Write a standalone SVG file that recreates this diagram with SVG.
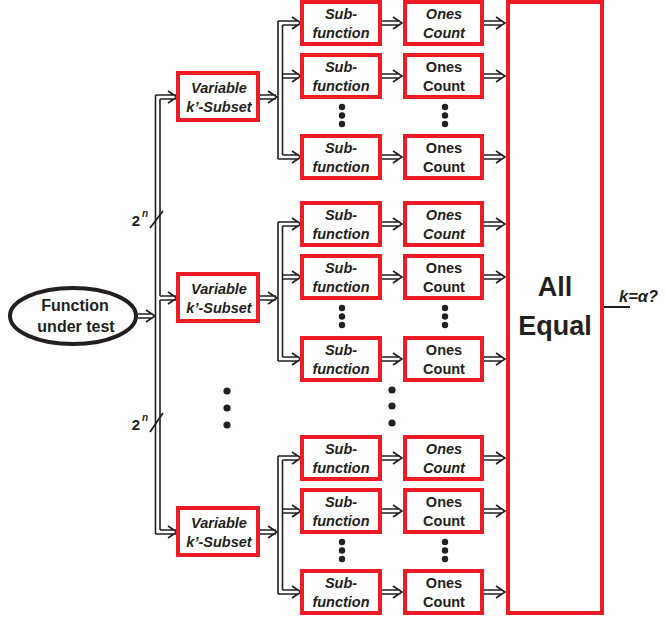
<svg xmlns="http://www.w3.org/2000/svg" width="665" height="622" viewBox="0 0 665 622">
<style>
.box{fill:#fff;stroke:#ED1C24;stroke-width:4}
.t{font-family:"Liberation Sans",Arial,sans-serif;font-weight:bold;font-size:14.5px;fill:#231F20;text-anchor:middle}
.i{font-style:italic}
.big{font-size:27px}
.fut{font-size:16px}
.w{fill:none;stroke:#231F20;stroke-width:1.6}
.dot{fill:#231F20}
</style>
<g id="connectors" class="w">
<path d="M138 314 H153 M138 318 H153 M146 310 L155 316 L146 322"/>
<path d="M155.5 95 V534 M160 99 V296 M160 300 V530"/>
<path d="M155.5 95 H176 M160 99 H176 M168 91 L177 97 L168 103"/>
<path d="M160 296 H176 M160 300 H176 M168 292 L177 298 L168 304"/>
<path d="M155.5 534 H176 M160 530 H176 M168 526 L177 532 L168 538"/>
<path d="M150 228 L163 211 M150 432 L163 413" stroke-width="1.8"/>
<path d="M258 95 H276 M258 99 H276 M268 91 L277 97 L268 103"/>
<path d="M278 21 V159 M282.5 25 V155"/>
<path d="M278 21 H299 M282.5 25 H299 M292 17 L301 23 L292 29"/>
<path d="M282.5 74 H299 M282.5 78 H299 M292 70 L301 76 L292 82"/>
<path d="M278 159 H299 M282.5 155 H299 M292 151 L301 157 L292 163"/>
<path d="M258 296 H276 M258 300 H276 M268 292 L277 298 L268 304"/>
<path d="M278 222 V361 M282.5 226 V357"/>
<path d="M278 222 H299 M282.5 226 H299 M292 218 L301 224 L292 230"/>
<path d="M282.5 275 H299 M282.5 279 H299 M292 271 L301 277 L292 283"/>
<path d="M278 361 H299 M282.5 357 H299 M292 353 L301 359 L292 365"/>
<path d="M258 530 H276 M258 534 H276 M268 526 L277 532 L268 538"/>
<path d="M278 456 V594 M282.5 460 V590"/>
<path d="M278 456 H299 M282.5 460 H299 M292 452 L301 458 L292 464"/>
<path d="M282.5 509 H299 M282.5 513 H299 M292 505 L301 511 L292 517"/>
<path d="M278 594 H299 M282.5 590 H299 M292 586 L301 592 L292 598"/>
<path d="M382 21 H400 M382 25 H400 M393 17 L402 23 L393 29 M484 21 H503 M484 25 H503 M496 17 L505 23 L496 29"/>
<path d="M382 74 H400 M382 78 H400 M393 70 L402 76 L393 82 M484 74 H503 M484 78 H503 M496 70 L505 76 L496 82"/>
<path d="M382 155 H400 M382 159 H400 M393 151 L402 157 L393 163 M484 155 H503 M484 159 H503 M496 151 L505 157 L496 163"/>
<path d="M382 222 H400 M382 226 H400 M393 218 L402 224 L393 230 M484 222 H503 M484 226 H503 M496 218 L505 224 L496 230"/>
<path d="M382 275 H400 M382 279 H400 M393 271 L402 277 L393 283 M484 275 H503 M484 279 H503 M496 271 L505 277 L496 283"/>
<path d="M382 357 H400 M382 361 H400 M393 353 L402 359 L393 365 M484 357 H503 M484 361 H503 M496 353 L505 359 L496 365"/>
<path d="M382 456 H400 M382 460 H400 M393 452 L402 458 L393 464 M484 456 H503 M484 460 H503 M496 452 L505 458 L496 464"/>
<path d="M382 509 H400 M382 513 H400 M393 505 L402 511 L393 517 M484 509 H503 M484 513 H503 M496 505 L505 511 L496 517"/>
<path d="M382 590 H400 M382 594 H400 M393 586 L402 592 L393 598 M484 590 H503 M484 594 H503 M496 586 L505 592 L496 598"/>
<path d="M604 307 H630" stroke-width="2"/>
</g>
<g id="fut">
<ellipse cx="73" cy="316" rx="63" ry="28" fill="#fff" stroke="#231F20" stroke-width="4"/>
<text class="t fut" x="75" y="311">Function</text>
<text class="t fut" x="76" y="332">under test</text>
</g>
<g id="labels2n">
<text class="t" x="136" y="226" style="font-size:15px">2</text><text class="t i" x="145" y="217" style="font-size:10px">n</text>
<text class="t" x="136" y="430" style="font-size:15px">2</text><text class="t i" x="145" y="421" style="font-size:10px">n</text>
</g>
<g id="var1"><rect class="box" x="178" y="73" width="80" height="47"/><text class="t i" x="219" y="93">Variable</text><text class="t i" x="219" y="112">k’-Subset</text></g>
<g id="var2"><rect class="box" x="178" y="274" width="80" height="47"/><text class="t i" x="219" y="294">Variable</text><text class="t i" x="219" y="313">k’-Subset</text></g>
<g id="var3"><rect class="box" x="178" y="508" width="80" height="47"/><text class="t i" x="219" y="528">Variable</text><text class="t i" x="219" y="547">k’-Subset</text></g>

<g id="sub1a"><rect class="box" x="302" y="2" width="78" height="42"/><text class="t i" x="341" y="19">Sub-</text><text class="t i" x="341" y="38">function</text></g>
<g id="ones1a"><rect class="box" x="405" y="2" width="77" height="42"/><text class="t i" x="444" y="19">Ones</text><text class="t i" x="444" y="38">Count</text></g>
<g id="sub1b"><rect class="box" x="302" y="55" width="78" height="42"/><text class="t i" x="341" y="72">Sub-</text><text class="t i" x="341" y="91">function</text></g>
<g id="ones1b"><rect class="box" x="405" y="55" width="77" height="42"/><text class="t" x="444" y="72">Ones</text><text class="t" x="444" y="91">Count</text></g>
<g id="sub1c"><rect class="box" x="302" y="136" width="78" height="42"/><text class="t i" x="341" y="153">Sub-</text><text class="t i" x="341" y="172">function</text></g>
<g id="ones1c"><rect class="box" x="405" y="136" width="77" height="42"/><text class="t" x="444" y="153">Ones</text><text class="t" x="444" y="172">Count</text></g>

<g id="sub2a"><rect class="box" x="302" y="203" width="78" height="42"/><text class="t i" x="341" y="220">Sub-</text><text class="t i" x="341" y="239">function</text></g>
<g id="ones2a"><rect class="box" x="405" y="203" width="77" height="42"/><text class="t i" x="444" y="220">Ones</text><text class="t i" x="444" y="239">Count</text></g>
<g id="sub2b"><rect class="box" x="302" y="256" width="78" height="42"/><text class="t i" x="341" y="273">Sub-</text><text class="t i" x="341" y="292">function</text></g>
<g id="ones2b"><rect class="box" x="405" y="256" width="77" height="42"/><text class="t" x="444" y="273">Ones</text><text class="t" x="444" y="292">Count</text></g>
<g id="sub2c"><rect class="box" x="302" y="338" width="78" height="42"/><text class="t i" x="341" y="355">Sub-</text><text class="t i" x="341" y="374">function</text></g>
<g id="ones2c"><rect class="box" x="405" y="338" width="77" height="42"/><text class="t" x="444" y="355">Ones</text><text class="t" x="444" y="374">Count</text></g>

<g id="sub3a"><rect class="box" x="302" y="437" width="78" height="42"/><text class="t i" x="341" y="454">Sub-</text><text class="t i" x="341" y="473">function</text></g>
<g id="ones3a"><rect class="box" x="405" y="437" width="77" height="42"/><text class="t i" x="444" y="454">Ones</text><text class="t i" x="444" y="473">Count</text></g>
<g id="sub3b"><rect class="box" x="302" y="490" width="78" height="42"/><text class="t i" x="341" y="507">Sub-</text><text class="t i" x="341" y="526">function</text></g>
<g id="ones3b"><rect class="box" x="405" y="490" width="77" height="42"/><text class="t" x="444" y="507">Ones</text><text class="t" x="444" y="526">Count</text></g>
<g id="sub3c"><rect class="box" x="302" y="571" width="78" height="42"/><text class="t i" x="341" y="588">Sub-</text><text class="t i" x="341" y="607">function</text></g>
<g id="ones3c"><rect class="box" x="405" y="571" width="77" height="42"/><text class="t" x="444" y="588">Ones</text><text class="t" x="444" y="607">Count</text></g>

<g id="allequal"><rect class="box" x="508" y="2" width="94" height="611"/><text class="t big" x="555" y="296">All</text><text class="t big" x="555" y="335">Equal</text></g>
<g id="output-label"><text class="t i" x="619" y="302" style="font-size:16.5px;text-anchor:start">k=α?</text></g>

<g id="ellipsis">
<circle class="dot" cx="342" cy="107" r="3.2"/><circle class="dot" cx="342" cy="115.5" r="3.2"/><circle class="dot" cx="342" cy="124" r="3.2"/>
<circle class="dot" cx="445" cy="107" r="3.2"/><circle class="dot" cx="445" cy="115.5" r="3.2"/><circle class="dot" cx="445" cy="124" r="3.2"/>
<circle class="dot" cx="342" cy="308" r="3.2"/><circle class="dot" cx="342" cy="316.5" r="3.2"/><circle class="dot" cx="342" cy="325" r="3.2"/>
<circle class="dot" cx="445" cy="308" r="3.2"/><circle class="dot" cx="445" cy="316.5" r="3.2"/><circle class="dot" cx="445" cy="325" r="3.2"/>
<circle class="dot" cx="342" cy="542" r="3.2"/><circle class="dot" cx="342" cy="550.5" r="3.2"/><circle class="dot" cx="342" cy="559" r="3.2"/>
<circle class="dot" cx="445" cy="542" r="3.2"/><circle class="dot" cx="445" cy="550.5" r="3.2"/><circle class="dot" cx="445" cy="559" r="3.2"/>
<circle class="dot" cx="227" cy="391" r="3.6"/><circle class="dot" cx="227" cy="408" r="3.6"/><circle class="dot" cx="227" cy="425" r="3.6"/>
<circle class="dot" cx="392" cy="390" r="3.6"/><circle class="dot" cx="392" cy="406" r="3.6"/><circle class="dot" cx="392" cy="423" r="3.6"/>
</g>
</svg>
